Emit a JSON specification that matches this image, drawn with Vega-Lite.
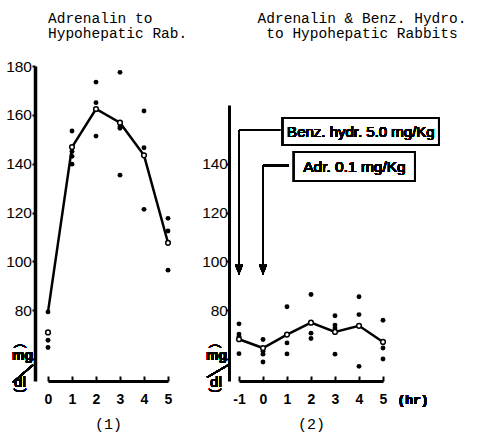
{
  "$schema": "https://vega.github.io/schema/vega-lite/v6.json",
  "autosize": {"type": "none"},
  "padding": {"left": 48, "top": 66, "right": 436, "bottom": 52},
  "background": "white",
  "spacing": 71,
  "bounds": "flush",
  "config": {
    "view": {"stroke": null},
    "axis": {
      "grid": false,
      "domainColor": "black",
      "tickColor": "black",
      "labelColor": "black",
      "titleColor": "black",
      "labelFlush": false,
      "labelOverlap": false,
      "labelBound": false
    },
    "title": {"color": "black"}
  },
  "datasets": {
    "rabbits1": [
      {"hr": 0, "mgdl": 79.3, "kind": "single"},
      {"hr": 0, "mgdl": 67.7, "kind": "single"},
      {"hr": 0, "mgdl": 64.7, "kind": "single"},
      {"hr": 1, "mgdl": 153.4, "kind": "single"},
      {"hr": 1, "mgdl": 145.0, "kind": "single"},
      {"hr": 1, "mgdl": 143.0, "kind": "single"},
      {"hr": 1, "mgdl": 139.8, "kind": "single"},
      {"hr": 2, "mgdl": 173.4, "kind": "single"},
      {"hr": 2, "mgdl": 165.0, "kind": "single"},
      {"hr": 2, "mgdl": 151.3, "kind": "single"},
      {"hr": 3, "mgdl": 177.4, "kind": "single"},
      {"hr": 3, "mgdl": 155.1, "kind": "single"},
      {"hr": 3, "mgdl": 154.5, "kind": "single"},
      {"hr": 3, "mgdl": 135.3, "kind": "single"},
      {"hr": 4, "mgdl": 161.6, "kind": "single"},
      {"hr": 4, "mgdl": 146.5, "kind": "single"},
      {"hr": 4, "mgdl": 121.3, "kind": "single"},
      {"hr": 5, "mgdl": 117.6, "kind": "single"},
      {"hr": 5, "mgdl": 112.4, "kind": "single"},
      {"hr": 5, "mgdl": 96.4, "kind": "single"},
      {"hr": 0, "mgdl": 70.9, "kind": "mean"},
      {"hr": 1, "mgdl": 146.8, "kind": "mean"},
      {"hr": 2, "mgdl": 162.4, "kind": "mean"},
      {"hr": 3, "mgdl": 156.8, "kind": "mean"},
      {"hr": 4, "mgdl": 143.4, "kind": "mean"},
      {"hr": 5, "mgdl": 107.6, "kind": "mean"},
      {"hr": 0, "mgdl": 79.3, "kind": "trend"},
      {"hr": 1, "mgdl": 146.8, "kind": "trend"},
      {"hr": 2, "mgdl": 162.4, "kind": "trend"},
      {"hr": 3, "mgdl": 156.8, "kind": "trend"},
      {"hr": 4, "mgdl": 143.4, "kind": "trend"},
      {"hr": 5, "mgdl": 107.6, "kind": "trend"}
    ],
    "rabbits2": [
      {"hr": -1, "mgdl": 74.4, "kind": "single"},
      {"hr": -1, "mgdl": 70.2, "kind": "single"},
      {"hr": -1, "mgdl": 69.2, "kind": "single"},
      {"hr": -1, "mgdl": 62.2, "kind": "single"},
      {"hr": 0, "mgdl": 68.0, "kind": "single"},
      {"hr": 0, "mgdl": 63.2, "kind": "single"},
      {"hr": 0, "mgdl": 62.0, "kind": "single"},
      {"hr": 0, "mgdl": 58.8, "kind": "single"},
      {"hr": 1, "mgdl": 81.4, "kind": "single"},
      {"hr": 1, "mgdl": 66.6, "kind": "single"},
      {"hr": 1, "mgdl": 62.1, "kind": "single"},
      {"hr": 2, "mgdl": 86.4, "kind": "single"},
      {"hr": 2, "mgdl": 70.6, "kind": "single"},
      {"hr": 2, "mgdl": 68.4, "kind": "single"},
      {"hr": 3, "mgdl": 77.7, "kind": "single"},
      {"hr": 3, "mgdl": 73.9, "kind": "single"},
      {"hr": 3, "mgdl": 72.7, "kind": "single"},
      {"hr": 3, "mgdl": 62.0, "kind": "single"},
      {"hr": 4, "mgdl": 85.5, "kind": "single"},
      {"hr": 4, "mgdl": 78.2, "kind": "single"},
      {"hr": 4, "mgdl": 57.0, "kind": "single"},
      {"hr": 5, "mgdl": 75.9, "kind": "single"},
      {"hr": 5, "mgdl": 64.5, "kind": "single"},
      {"hr": 5, "mgdl": 60.0, "kind": "single"},
      {"hr": -1, "mgdl": 68.1, "kind": "mean"},
      {"hr": 0, "mgdl": 64.5, "kind": "mean"},
      {"hr": 1, "mgdl": 70.0, "kind": "mean"},
      {"hr": 2, "mgdl": 74.9, "kind": "mean"},
      {"hr": 3, "mgdl": 71.1, "kind": "mean"},
      {"hr": 4, "mgdl": 73.6, "kind": "mean"},
      {"hr": 5, "mgdl": 67.0, "kind": "mean"}
    ]
  },
  "hconcat": [
    {
      "width": 120,
      "height": 315,
      "title": {
        "text": ["Adrenalin to", "Hypohepatic Rab."],
        "anchor": "start",
        "frame": "group",
        "font": "Liberation Mono",
        "fontSize": 14.5,
        "fontWeight": "normal",
        "lineHeight": 15,
        "offset": 18
      },
      "data": {"name": "rabbits1"},
      "encoding": {
        "x": {
          "field": "hr",
          "type": "quantitative",
          "scale": {"domain": [0, 5], "nice": false, "zero": false},
          "axis": {
            "values": [0, 1, 2, 3, 4, 5],
            "format": "d",
            "title": "(1)",
            "domainWidth": 3,
            "tickWidth": 2,
            "tickSize": -5,
            "labelPadding": 16,
            "labelFont": "Liberation Sans",
            "labelFontWeight": "bold",
            "labelFontSize": 14,
            "titleFont": "Liberation Mono",
            "titleFontSize": 15,
            "titleFontWeight": "normal",
            "titlePadding": 10
          }
        },
        "y": {
          "field": "mgdl",
          "type": "quantitative",
          "scale": {"domain": [51, 180], "nice": false, "zero": false},
          "axis": {
            "values": [60, 80, 100, 120, 140, 160, 180],
            "labelExpr": "datum.value == 60 ? '' : datum.label",
            "title": null,
            "offset": 13,
            "domainWidth": 3.5,
            "tickWidth": 2,
            "tickSize": 3,
            "labelPadding": 0.5,
            "labelFont": "Liberation Sans",
            "labelFontSize": 15.5
          }
        }
      },
      "layer": [
        {
          "transform": [{"filter": "datum.kind == 'single'"}],
          "mark": {"type": "circle", "color": "black", "size": 24, "opacity": 1}
        },
        {
          "transform": [{"filter": "datum.kind == 'trend'"}],
          "mark": {"type": "line", "color": "black", "strokeWidth": 2.5}
        },
        {
          "transform": [{"filter": "datum.kind == 'mean'"}],
          "mark": {"type": "point", "filled": true, "fill": "white", "stroke": "black", "strokeWidth": 1.5, "size": 22, "opacity": 1}
        },
        {
          "mark": {"type": "text", "text": "mg", "font": "Liberation Sans", "fontWeight": "bold", "fontSize": 14, "color": "black"},
          "encoding": {"x": {"datum": -1.06}, "y": {"datum": 61.1}}
        },
        {
          "mark": {"type": "text", "text": "dl", "font": "Liberation Sans", "fontSize": 15, "color": "black"},
          "encoding": {"x": {"datum": -1.17}, "y": {"datum": 50.5}}
        },
        {
          "mark": {"type": "rule", "color": "black", "strokeWidth": 1.5},
          "encoding": {"x": {"datum": -1.46}, "x2": {"datum": -0.62}, "y": {"datum": 50.5}, "y2": {"datum": 57.6}}
        },
        {
          "mark": {"type": "text", "text": "(", "angle": 90, "font": "Liberation Sans", "fontSize": 13, "color": "black"},
          "encoding": {"x": {"datum": -1.12}, "y": {"datum": 65.4}}
        },
        {
          "mark": {"type": "text", "text": ")", "angle": 90, "font": "Liberation Sans", "fontSize": 13, "color": "black"},
          "encoding": {"x": {"datum": -1.12}, "y": {"datum": 47.0}}
        }
      ]
    },
    {
      "width": 144,
      "height": 315,
      "title": {
        "text": ["Adrenalin & Benz. Hydro.", "to Hypohepatic Rabbits"],
        "anchor": "middle",
        "frame": "group",
        "dx": 51,
        "font": "Liberation Mono",
        "fontSize": 14.5,
        "fontWeight": "normal",
        "lineHeight": 15,
        "offset": 25
      },
      "data": {"name": "rabbits2"},
      "encoding": {
        "x": {
          "field": "hr",
          "type": "quantitative",
          "scale": {"domain": [-1, 5], "nice": false, "zero": false},
          "axis": {
            "values": [-1, 0, 1, 2, 3, 4, 5],
            "format": "d",
            "labelExpr": "replace(datum.label, '\u2212', '-')",
            "title": "(2)",
            "domainWidth": 3,
            "tickWidth": 2,
            "tickSize": -5,
            "labelPadding": 16,
            "labelFont": "Liberation Sans",
            "labelFontWeight": "bold",
            "labelFontSize": 14,
            "titleFont": "Liberation Mono",
            "titleFontSize": 15,
            "titleFontWeight": "normal",
            "titlePadding": 10
          }
        },
        "y": {
          "field": "mgdl",
          "type": "quantitative",
          "scale": {"domain": [51, 180], "nice": false, "zero": false},
          "axis": {
            "values": [60, 80, 100, 120, 140],
            "labelExpr": "datum.value == 60 ? '' : datum.label",
            "title": null,
            "offset": 10,
            "domainWidth": 3,
            "domainDash": [276, 400],
            "tickWidth": 2,
            "tickSize": 3,
            "labelPadding": -1.5,
            "labelFont": "Liberation Sans",
            "labelFontSize": 15.5
          }
        }
      },
      "layer": [
        {
          "transform": [{"filter": "datum.kind == 'single'"}],
          "mark": {"type": "circle", "color": "black", "size": 24, "opacity": 1}
        },
        {
          "transform": [{"filter": "datum.kind == 'mean'"}],
          "mark": {"type": "line", "color": "black", "strokeWidth": 2.5}
        },
        {
          "transform": [{"filter": "datum.kind == 'mean'"}],
          "mark": {"type": "point", "filled": true, "fill": "white", "stroke": "black", "strokeWidth": 1.5, "size": 22, "opacity": 1}
        },
        {
          "mark": {"type": "rule", "color": "black", "strokeWidth": 2},
          "encoding": {"x": {"datum": -1}, "y": {"datum": 153.8}, "y2": {"datum": 96}}
        },
        {
          "mark": {"type": "rule", "color": "black", "strokeWidth": 2},
          "encoding": {"x": {"datum": -1}, "x2": {"datum": 0.71}, "y": {"datum": 153.8}}
        },
        {
          "mark": {"type": "rule", "color": "black", "strokeWidth": 2},
          "encoding": {"x": {"datum": 0}, "y": {"datum": 139.4}, "y2": {"datum": 96}}
        },
        {
          "mark": {"type": "rule", "color": "black", "strokeWidth": 2},
          "encoding": {"x": {"datum": 0}, "x2": {"datum": 1.08}, "y": {"datum": 139.4}}
        },
        {
          "mark": {"type": "point", "shape": "M-0.6,-1.5L0,0L0.6,-1.5", "filled": false, "stroke": "black", "strokeWidth": 2, "size": 100, "opacity": 1},
          "encoding": {"x": {"datum": -1}, "y": {"datum": 95.6}}
        },
        {
          "mark": {"type": "point", "shape": "M-0.6,-1.5L0,0L0.6,-1.5", "filled": false, "stroke": "black", "strokeWidth": 2, "size": 100, "opacity": 1},
          "encoding": {"x": {"datum": 0}, "y": {"datum": 95.6}}
        },
        {
          "mark": {"type": "rect", "fill": "white", "stroke": "black", "strokeWidth": 2},
          "encoding": {"x": {"datum": 0.83}, "x2": {"datum": 7.33}, "y": {"datum": 147.6}, "y2": {"datum": 158.7}}
        },
        {
          "mark": {"type": "rect", "fill": "white", "stroke": "black", "strokeWidth": 2},
          "encoding": {"x": {"datum": 1.29}, "x2": {"datum": 6.33}, "y": {"datum": 132.9}, "y2": {"datum": 144.75}}
        },
        {
          "mark": {"type": "text", "text": "Benz. hydr. 5.0 mg/Kg", "font": "Liberation Sans", "fontSize": 15, "color": "black"},
          "encoding": {"x": {"datum": 4.08}, "y": {"datum": 153.1}}
        },
        {
          "mark": {"type": "text", "text": "Adr. 0.1 mg/Kg", "font": "Liberation Sans", "fontSize": 15.5, "color": "black"},
          "encoding": {"x": {"datum": 3.81}, "y": {"datum": 138.8}}
        },
        {
          "mark": {"type": "text", "text": "(hr)", "font": "Liberation Mono", "fontWeight": "bold", "fontSize": 13, "color": "black"},
          "encoding": {"x": {"datum": 6.25}, "y": {"datum": 43.1}}
        },
        {
          "mark": {"type": "text", "text": "mg", "font": "Liberation Sans", "fontWeight": "bold", "fontSize": 14, "color": "black"},
          "encoding": {"x": {"datum": -1.94}, "y": {"datum": 61.1}}
        },
        {
          "mark": {"type": "text", "text": "dl", "font": "Liberation Sans", "fontSize": 15, "color": "black"},
          "encoding": {"x": {"datum": -1.96}, "y": {"datum": 50.5}}
        },
        {
          "mark": {"type": "rule", "color": "black", "strokeWidth": 1.5},
          "encoding": {"x": {"datum": -2.33}, "x2": {"datum": -1.46}, "y": {"datum": 52.5}, "y2": {"datum": 57.5}}
        },
        {
          "mark": {"type": "text", "text": "(", "angle": 90, "font": "Liberation Sans", "fontSize": 13, "color": "black"},
          "encoding": {"x": {"datum": -1.96}, "y": {"datum": 65.4}}
        },
        {
          "mark": {"type": "text", "text": ")", "angle": 90, "font": "Liberation Sans", "fontSize": 13, "color": "black"},
          "encoding": {"x": {"datum": -1.96}, "y": {"datum": 47.0}}
        }
      ]
    }
  ]
}
